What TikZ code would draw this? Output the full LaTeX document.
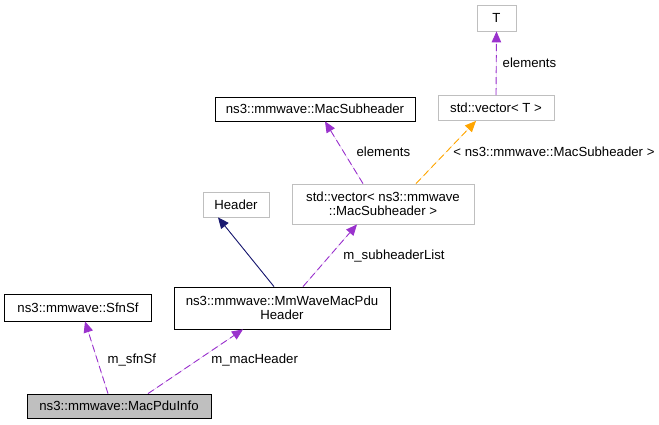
\documentclass[tikz,border=0pt]{standalone}
\usepackage{fontspec}
\setmainfont{Liberation Sans}
\usepackage{xcolor}
\usetikzlibrary{arrows.meta}
\definecolor{dpurple}{HTML}{9A32CD}
\definecolor{dorange}{HTML}{FFA500}
\definecolor{dnavy}{HTML}{191970}
\definecolor{boxgray}{HTML}{BFBFBF}

\begin{document}
\begin{tikzpicture}[x=1pt, y=-1pt, font=\fontsize{13.2}{14}\selectfont,
  box/.style={draw=black, line width=0.8pt, inner sep=0pt, align=center},
  ext/.style={box, draw=boxgray},
  lbl/.style={inner sep=0pt, anchor=west},
  use/.style={-{Triangle[length=11pt,width=9.5pt]}, dash pattern=on 7pt off 4pt, draw=dpurple, fill=dpurple, line width=0.9pt},
  tmpl/.style={use, draw=dorange, fill=dorange},
  inh/.style={-{Triangle[length=11pt,width=9.5pt]}, draw=dnavy, fill=dnavy, line width=0.9pt}]
\useasboundingbox (0,0) rectangle (659,424);

\node[box, fill=boxgray, minimum width=184pt, minimum height=24pt] (info) at (119,406) {ns3::mmwave::MacPduInfo};
\node[box, minimum width=147pt, minimum height=27pt] (sfn) at (78,307.5) {ns3::mmwave::SfnSf};
\node[box, minimum width=216pt, minimum height=42pt] (mmw) at (282,308) {ns3::mmwave::MmWaveMacPdu\\Header};
\node[ext, minimum width=66pt, minimum height=25pt] (hdr) at (236,204.5) {Header};
\node[ext, minimum width=182pt, minimum height=40pt] (vec) at (383,204) {std::vector< ns3::mmwave\\::MacSubheader >};
\node[box, minimum width=200pt, minimum height=24pt] (msh) at (315,109) {ns3::mmwave::MacSubheader};
\node[ext, minimum width=116pt, minimum height=25pt] (vecT) at (496,108) {std::vector< T >};
\node[ext, minimum width=39pt, minimum height=26pt] (T) at (496.5,18) {T};

\draw[use] ([xshift=-11pt]info.north) -- ([xshift=7pt]sfn.south)
  node[lbl, pos=0.47, xshift=10pt]{m\_sfnSf};
\draw[use] ([xshift=29pt]info.north) -- ([xshift=-39pt]mmw.south)
  node[lbl, pos=0.52, xshift=13.5pt]{m\_macHeader};
\draw[inh] ([xshift=-8pt]mmw.north) -- ([xshift=-18pt]hdr.south);
\draw[use] ([xshift=21pt]mmw.north) -- ([xshift=-26pt]vec.south)
  node[lbl, pos=0.49, xshift=13.5pt]{m\_subheaderList};
\draw[use] ([xshift=-20pt]vec.north) -- ([xshift=10pt]msh.south)
  node[lbl, pos=0.51, xshift=12.5pt]{elements};
\draw[tmpl] ([xshift=33pt]vec.north) -- ([xshift=-20pt]vecT.south)
  node[lbl, pos=0.5, xshift=7pt]{< ns3::mmwave::MacSubheader >};
\draw[use] (vecT.north) -- (T.south)
  node[lbl, pos=0.51, xshift=6pt]{elements};

\end{tikzpicture}
\end{document}
